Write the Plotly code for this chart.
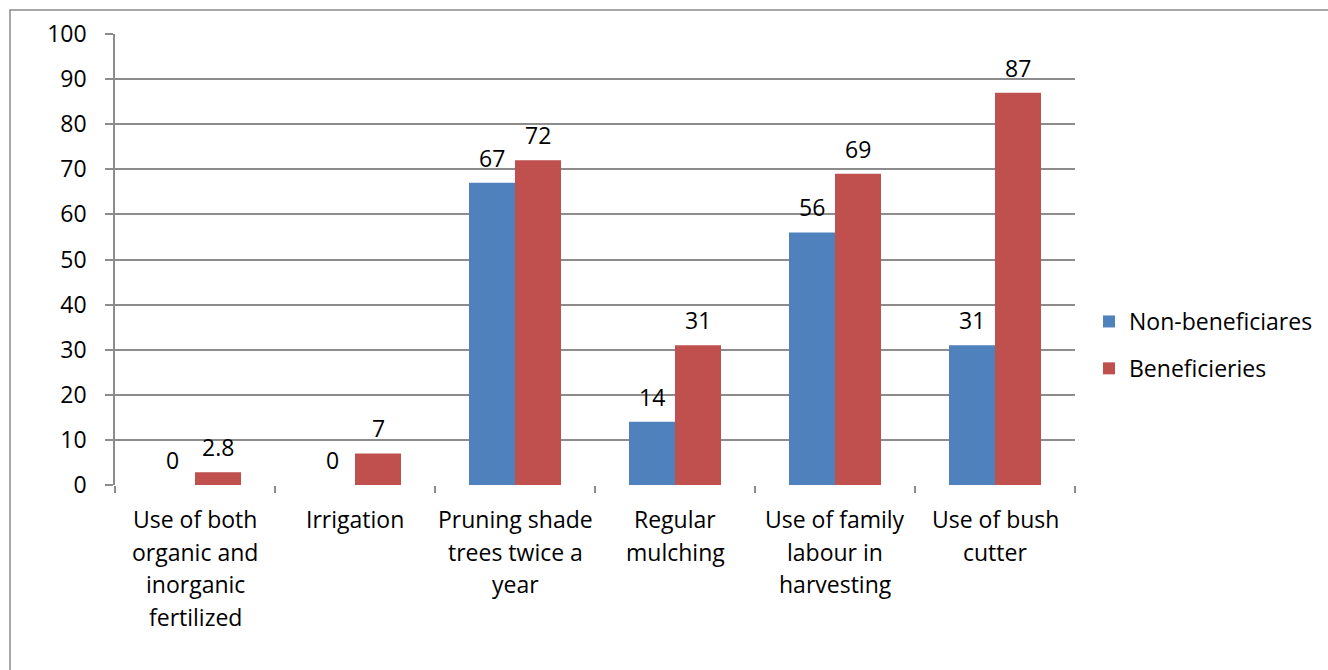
import plotly.graph_objects as go

# Farm practices adopted (%) by programme status
practices = [
    "Use of both organic and inorganic fertilized",
    "Irrigation",
    "Pruning shade trees twice a year",
    "Regular mulching",
    "Use of family labour in harvesting",
    "Use of bush cutter",
]
# wrapped form of each category name, one entry per line
practice_lines = [
    ["Use of both", "organic and", "inorganic", "fertilized"],
    ["Irrigation"],
    ["Pruning shade", "trees twice a", "year"],
    ["Regular", "mulching"],
    ["Use of family", "labour in", "harvesting"],
    ["Use of bush", "cutter"],
]
non_beneficiaries = [0, 0, 67, 14, 56, 31]
beneficiaries = [2.8, 7, 72, 31, 69, 87]
y_ticks = list(range(0, 101, 10))

BLUE = "#4F81BD"
RED = "#C0504D"
GRID = "#8C8C8C"
FONT = "Open Sans"
FSIZE = 23

W, H = 1328, 670
ML, MR, MT, MB = 115, 253, 34, 185
pw = W - ML - MR
ph = H - MT - MB


def px_x(px):
    return (px - ML) / pw


def px_y(py):
    return (H - MB - py) / ph


fig = go.Figure()
fig.add_trace(go.Bar(name="Non-beneficiares", x=practices, y=non_beneficiaries,
                     marker=dict(color=BLUE, line=dict(width=0)),
                     legendgroup="a"))
fig.add_trace(go.Bar(name="Beneficieries", x=practices, y=beneficiaries,
                     marker=dict(color=RED, line=dict(width=0)),
                     legendgroup="b"))

# value labels above each bar
bar_px = pw / len(practices) * (1 - 0.425) / 2
for vals, shift in ((non_beneficiaries, -bar_px / 2), (beneficiaries, bar_px / 2)):
    for cat, v in zip(practices, vals):
        fig.add_annotation(x=cat, y=v, text=f"{v:g}", showarrow=False,
                           xshift=shift, yshift=7, yanchor="bottom",
                           font=dict(family=FONT, size=FSIZE, color="black"))

# category labels under the axis, wrapped with looser line spacing
LINE_GAP = 32.5
for cat, lines in zip(practices, practice_lines):
    for i, line in enumerate(lines):
        fig.add_annotation(x=cat, xref="x", y=px_y(519 + LINE_GAP * i), yref="paper",
                           text=line, showarrow=False, yanchor="middle",
                           xanchor="center",
                           font=dict(family=FONT, size=FSIZE, color="black"))

# outer chart frame
fig.add_shape(type="rect", xref="paper", yref="paper",
              x0=px_x(10), x1=px_x(1400), y0=px_y(720), y1=px_y(10),
              line=dict(color="#8A8A8A", width=1.5), fillcolor="rgba(0,0,0,0)",
              layer="below")

fig.update_layout(
    width=W, height=H,
    margin=dict(l=ML, r=MR, t=MT, b=MB, pad=0, autoexpand=False),
    paper_bgcolor="white", plot_bgcolor="white",
    barmode="group", bargap=0.425, bargroupgap=0,
    font=dict(family=FONT, size=FSIZE, color="black"),
    showlegend=True,
    legend=dict(x=px_x(1089), y=px_y(345), xanchor="left", yanchor="middle",
                font=dict(family=FONT, size=FSIZE, color="black"),
                traceorder="grouped", tracegroupgap=14,
                itemwidth=30, bgcolor="rgba(0,0,0,0)"),
)
fig.update_xaxes(
    type="category", showgrid=False, showline=False, zeroline=False,
    ticks="outside", tickson="boundaries", ticklen=7, tickcolor=GRID, tickwidth=1.5,
    showticklabels=False, automargin=False,
)
fig.update_yaxes(
    range=[0, 100], tickvals=y_ticks, showgrid=True, gridcolor=GRID, gridwidth=1.5,
    showline=True, linecolor=GRID, linewidth=1.5, zeroline=False,
    ticks="outside", ticklen=8, tickcolor=GRID, tickwidth=1.5, automargin=False,
    tickfont=dict(family=FONT, size=FSIZE, color="black"),
    ticklabelstandoff=14,
)

fig.write_html("out.html")
